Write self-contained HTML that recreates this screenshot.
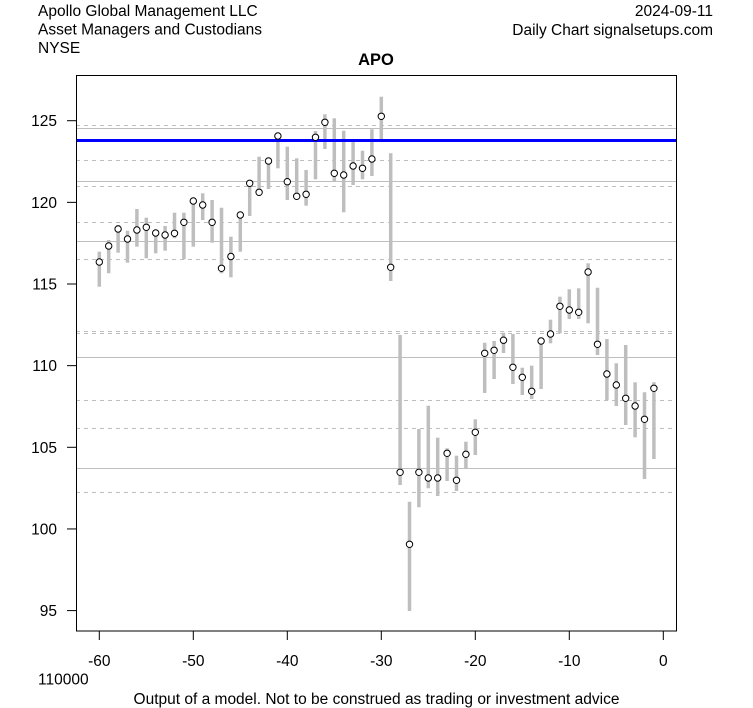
<!DOCTYPE html>
<html><head><meta charset="utf-8"><style>
html,body{margin:0;padding:0;background:#fff;}
svg{display:block;font-family:"Liberation Sans",Arial,sans-serif;}
</style></head><body>
<svg width="753" height="708" viewBox="0 0 753 708" xmlns="http://www.w3.org/2000/svg">
<rect x="0" y="0" width="753" height="708" fill="#fff"/>
<g font-size="15.5" fill="#000">
<text x="38" y="16">Apollo Global Management LLC</text>
<text x="38" y="34.5">Asset Managers and Custodians</text>
<text x="38" y="53">NYSE</text>
<text x="713" y="16" text-anchor="end">2024-09-11</text>
<text x="713" y="35" text-anchor="end">Daily Chart signalsetups.com</text>
<text x="38" y="684.5">110000</text>
<text x="376.5" y="704" text-anchor="middle">Output of a model. Not to be construed as trading or investment advice</text>
</g>
<text x="376" y="65" text-anchor="middle" font-size="16.5" font-weight="bold">APO</text>
<g stroke="#bebebe" stroke-width="1" fill="none">
<g stroke-dasharray="4,4">
<line x1="76" x2="676" y1="125.5" y2="125.5"/>
<line x1="76" x2="676" y1="160.5" y2="160.5"/>
<line x1="76" x2="676" y1="186.5" y2="186.5"/>
<line x1="76" x2="676" y1="222.5" y2="222.5"/>
<line x1="76" x2="676" y1="259.5" y2="259.5"/>
<line x1="76" x2="676" y1="331.5" y2="331.5"/>
<line x1="76" x2="676" y1="333.5" y2="333.5"/>
<line x1="76" x2="676" y1="400.5" y2="400.5"/>
<line x1="76" x2="676" y1="428.5" y2="428.5"/>
<line x1="76" x2="676" y1="492.5" y2="492.5"/>
</g>
<line x1="76" x2="676" y1="128.5" y2="128.5"/>
<line x1="76" x2="676" y1="181.5" y2="181.5"/>
<line x1="76" x2="676" y1="241.5" y2="241.5"/>
<line x1="76" x2="676" y1="357.5" y2="357.5"/>
<line x1="76" x2="676" y1="468.5" y2="468.5"/>
</g>
<g id="bars" stroke="#bebebe" stroke-width="3.5"></g>
<line x1="76" x2="676" y1="140.5" y2="140.5" stroke="#0000ff" stroke-width="3"/>
<g id="pts" stroke="#000" stroke-width="1" fill="#fff"></g>
<rect x="76.5" y="75.5" width="600" height="555.5" fill="none" stroke="#000" stroke-width="1"/>
<g stroke="#000" stroke-width="1">
<line x1="67" x2="76" y1="120.7" y2="120.7"/>
<line x1="67" x2="76" y1="202.35" y2="202.35"/>
<line x1="67" x2="76" y1="284" y2="284"/>
<line x1="67" x2="76" y1="365.65" y2="365.65"/>
<line x1="67" x2="76" y1="447.3" y2="447.3"/>
<line x1="67" x2="76" y1="528.95" y2="528.95"/>
<line x1="67" x2="76" y1="610.6" y2="610.6"/>
<line x1="99.3" x2="99.3" y1="631" y2="640"/>
<line x1="193.3" x2="193.3" y1="631" y2="640"/>
<line x1="287.3" x2="287.3" y1="631" y2="640"/>
<line x1="381.3" x2="381.3" y1="631" y2="640"/>
<line x1="475.3" x2="475.3" y1="631" y2="640"/>
<line x1="569.3" x2="569.3" y1="631" y2="640"/>
<line x1="663.3" x2="663.3" y1="631" y2="640"/>
</g>
<g font-size="15.5" fill="#000" text-anchor="end">
<text x="57" y="126.2">125</text>
<text x="57" y="207.85">120</text>
<text x="57" y="289.5">115</text>
<text x="57" y="371.15">110</text>
<text x="57" y="452.8">105</text>
<text x="57" y="534.45">100</text>
<text x="57" y="616.1">95</text>
</g>
<g font-size="15.5" fill="#000" text-anchor="middle">
<text x="99.3" y="666">-60</text>
<text x="193.3" y="666">-50</text>
<text x="287.3" y="666">-40</text>
<text x="381.3" y="666">-30</text>
<text x="475.3" y="666">-20</text>
<text x="569.3" y="666">-10</text>
<text x="663.3" y="666">0</text>
</g>
</svg>
<script>
var d=[
[251.7,286.7,262],[240,273.3,246],[225,252.7,229],[230.7,262.7,239],[209,246.7,230],
[217.7,258.3,227.3],[231.7,253.3,233],[226,250.7,235],[212.7,238.3,233.3],[212.7,259.3,222.3],
[198.7,246.7,201],[193.3,220,205],[200,242.7,222.3],[207.7,273.3,268.3],[236.7,277.3,256.5],
[211.7,251.7,215],[180,216,183.3],[156.7,196,192.3],[158.3,189,161],[133.3,168.3,136],
[146.7,200,181.7],[158.3,198.3,196.3],[170,205.7,194.3],[131,179.3,137.3],[114.3,149,122.3],
[118.3,181,173.3],[130.7,212.3,175],[141,185,166],[150.7,179.3,168.3],[129.3,176,159],
[96.7,141.7,116.3],[153.3,281,267.3],[335,485,472.3],[501.7,611,544.3],[429,507.3,472.3],
[405.7,488.3,478],[437.7,496,478],[448.3,481,453.3],[455.7,491,480.3],[441.7,469,454.3],
[419.3,455,432.3],[342.7,393,353.3],[341,379,350.3],[332.7,353,340.2],[334,384,367.3],
[367.7,395,377.3],[365.7,399,391.3],[337.7,389,341],[319.7,343.3,334],[296.7,333.3,306.3],
[289.3,319,310],[288.3,319,312.3],[263.3,323.3,272],[287.7,355,344.3],[339,400.3,374],
[363.3,406,385],[345,425,398.3],[382.3,437.3,406],[392.3,479,419.3],[382.3,459,388.3]];
var ns="http://www.w3.org/2000/svg",b=document.getElementById("bars"),p=document.getElementById("pts");
for(var i=0;i<d.length;i++){var x=99.3+i*9.4;
var l=document.createElementNS(ns,"line");l.setAttribute("x1",x);l.setAttribute("x2",x);l.setAttribute("y1",d[i][0]);l.setAttribute("y2",d[i][1]);b.appendChild(l);
var c=document.createElementNS(ns,"circle");c.setAttribute("cx",x);c.setAttribute("cy",d[i][2]);c.setAttribute("r",3.2);p.appendChild(c);}
</script>
</body></html>
